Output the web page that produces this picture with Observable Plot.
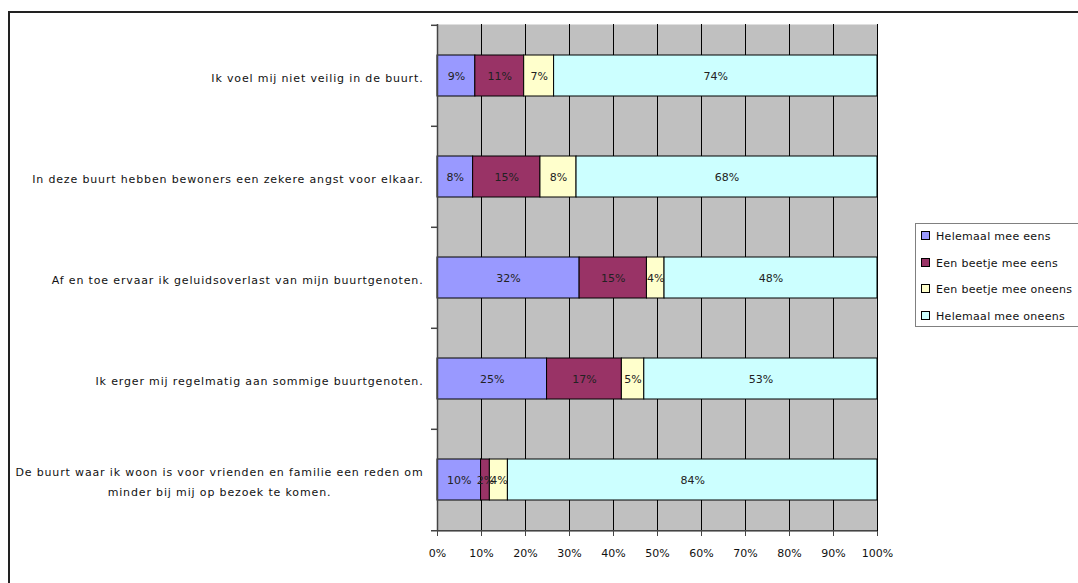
<!DOCTYPE html>
<html>
<head>
<meta charset="utf-8">
<script src="https://cdn.jsdelivr.net/npm/d3@7"></script>
<script src="https://cdn.jsdelivr.net/npm/@observablehq/plot@0.6"></script>
<style>
  html, body { margin: 0; padding: 0; background: #fff; }
  #wrap { position: relative; width: 1078px; height: 583px; overflow: hidden; font-family: "DejaVu Sans", sans-serif; }
  #wrap svg { position: absolute; left: 0; top: 0; }
  #frame { position: absolute; left: 8px; top: 11px; width: 1200px; height: 700px; border: 2px solid #222; box-sizing: border-box; pointer-events: none; }
  #legend { position: absolute; left: 915px; top: 223px; width: 300px; height: 104px; border: 1px solid #808080; background: #fff; box-sizing: border-box; }
  .item { position: absolute; left: 5px; font-size: 11px; color: #111; white-space: nowrap; line-height: 14px; letter-spacing: 0.3px; }
  .sw { display: inline-block; width: 7px; height: 7px; border: 1px solid #000; margin-right: 6px; vertical-align: 0px; }
</style>
</head>
<body>
<div id="wrap"></div>
<script>
const questions = [
  "Ik voel mij niet veilig in de buurt.",
  "In deze buurt hebben bewoners een zekere angst voor elkaar.",
  "Af en toe ervaar ik geluidsoverlast van mijn buurtgenoten.",
  "Ik erger mij regelmatig aan sommige buurtgenoten.",
  "De buurt waar ik woon is voor vrienden en familie een reden om\nminder bij mij op bezoek te komen."
];
const answers = ["Helemaal mee eens", "Een beetje mee eens", "Een beetje mee oneens", "Helemaal mee oneens"];
const colors = ["#9999FF", "#993366", "#FFFFCC", "#CCFFFF"];
// percentages per question, in order of answers
const helemaalMeeEens   = [8.6, 8.1, 32.3, 24.9, 9.9];
const beetjeMeeEens     = [11.1, 15.3, 15.3, 17.0, 2.0];
const beetjeMeeOneens   = [6.8, 8.2, 4.0, 5.1, 4.1];
const helemaalMeeOneens = [73.5, 68.4, 48.4, 53.0, 84.0];
const xTicks = [0, 10, 20, 30, 40, 50, 60, 70, 80, 90, 100];

const series = [helemaalMeeEens, beetjeMeeEens, beetjeMeeOneens, helemaalMeeOneens];
const data = [];
questions.forEach((q, i) => answers.forEach((a, j) => data.push({question: q, answer: a, value: series[j][i]})));

const W = 1078, H = 583, mT = 24, mB = 52, mL = 437, mR = 201;
const half = (H - mT - mB) / questions.length / 2;
const LS = 0.85;

const ctx = document.createElement("canvas").getContext("2d");
ctx.font = "11px 'DejaVu Sans'";
const labelMarks = questions.map(q => {
  const w = d3.max(q.split("\n"), s => ctx.measureText(s).width + s.length * LS);
  return Plot.text([q], {x: () => 0, y: d => d, text: d => d, textAnchor: "middle", dx: -14 - w / 2, lineHeight: 1.8, fill: "#111"});
});

const stackOpts = {x: "value", y: "question", fill: "answer", order: answers};

const svg = Plot.plot({
  width: W, height: H,
  marginTop: mT, marginBottom: mB, marginLeft: mL, marginRight: mR,
  style: {fontFamily: "DejaVu Sans", fontSize: "11px", background: "transparent", color: "#111"},
  x: {domain: [0, 100], ticks: xTicks, tickFormat: d => d + "%", label: null},
  y: {domain: questions, axis: null, padding: 0},
  color: {domain: answers, range: colors},
  marks: [
    Plot.frame({fill: "#C0C0C0"}),
    Plot.ruleX(xTicks.slice(1), {stroke: "#000", strokeWidth: 1}),
    Plot.barX(data, Plot.stackX({...stackOpts, insetTop: 30, insetBottom: 30, stroke: "#000", strokeWidth: 1})),
    Plot.text(data, Plot.stackX({...stackOpts, z: "answer", text: d => Math.round(d.value) + "%", fill: "#222"})),
    Plot.ruleX([0], {stroke: "#444", strokeWidth: 1.5}),
    Plot.ruleY(questions, {y: d => d, dy: -half, x1: () => 0, x2: () => 0, insetLeft: -6, stroke: "#444", strokeWidth: 1.5}),
    Plot.ruleY(questions.slice(-1), {y: d => d, dy: half, insetLeft: -6, stroke: "#444", strokeWidth: 1.5}),
    Plot.axisX({ticks: xTicks, tickSize: 5, tickPadding: 13, tickFormat: d => d + "%", stroke: "#444", fill: "#111", label: null}),
    ...labelMarks
  ]
});

const flat = new Set(questions.map(q => q.replace("\n", "")));
d3.select(svg).selectAll("text")
  .filter(function() { return flat.has(this.textContent); })
  .style("letter-spacing", LS + "px");

const wrap = document.getElementById("wrap");
wrap.appendChild(svg);
const frame = document.createElement("div");
frame.id = "frame";
wrap.appendChild(frame);
const legend = document.createElement("div");
legend.id = "legend";
answers.forEach((a, i) => {
  const it = document.createElement("div");
  it.className = "item";
  it.style.top = (6 + i * 26.5) + "px";
  const sw = document.createElement("span");
  sw.className = "sw";
  sw.style.background = colors[i];
  it.appendChild(sw);
  it.appendChild(document.createTextNode(a));
  legend.appendChild(it);
});
wrap.appendChild(legend);
</script>
</body>
</html>
